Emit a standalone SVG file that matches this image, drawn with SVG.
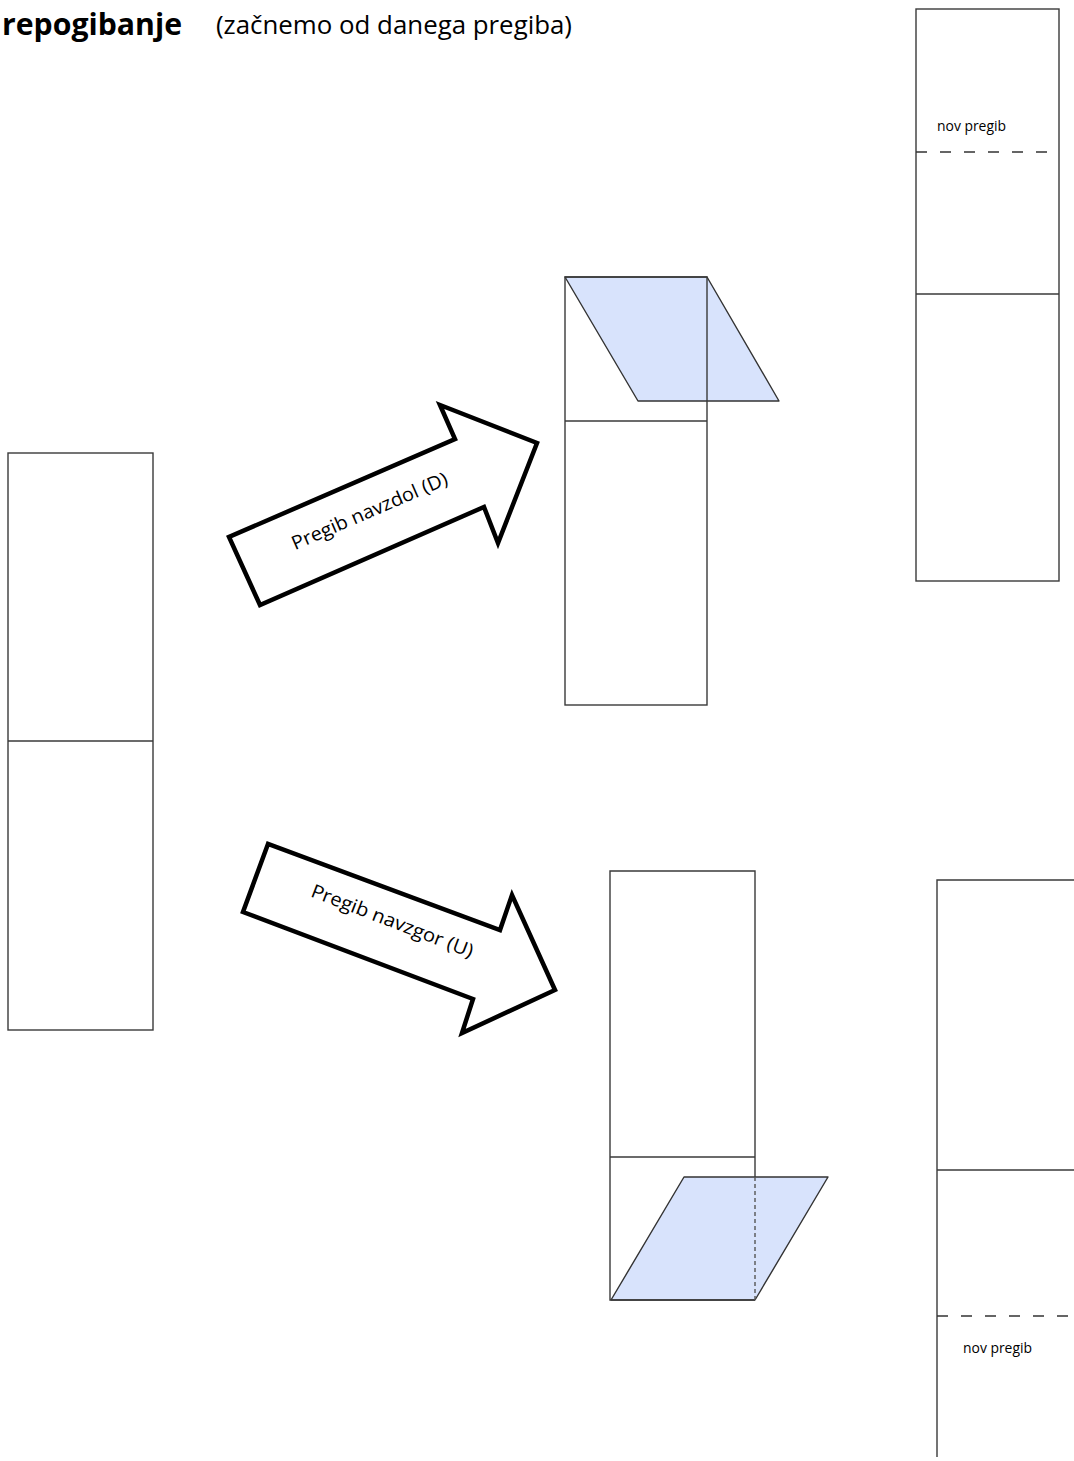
<svg xmlns="http://www.w3.org/2000/svg" width="1074" height="1461" viewBox="0 0 1074 1461">
<style>
.ln{fill:none;stroke:#3a3a3a;stroke-width:1.4}
.dash{fill:none;stroke:#333;stroke-width:1.6;stroke-dasharray:11 13}
.fold{fill:#d8e3fc;stroke:#333;stroke-width:1.4;stroke-linejoin:round}
.dot{fill:none;stroke:#555;stroke-width:1.4;stroke-dasharray:4 3}
.arrow{fill:#fff;stroke:#000;stroke-width:4.5;stroke-linejoin:miter}
.atxt{font-family:"Open Sans","Noto Sans",sans-serif;font-size:19px;fill:#000}
.small{font-family:"Open Sans","Noto Sans",sans-serif;font-size:14px;fill:#000}
</style>
<rect width="1074" height="1461" fill="#fff"/>
<g id="title">
<text x="2" y="35" font-family="'Open Sans','Noto Sans',sans-serif" font-weight="bold" font-size="31" textLength="180" lengthAdjust="spacingAndGlyphs">repogibanje</text>
<text x="216" y="34" font-family="'Open Sans','Noto Sans',sans-serif" font-size="25" textLength="356" lengthAdjust="spacingAndGlyphs">(začnemo od danega pregiba)</text>
</g>
<g id="start-strip">
<rect class="ln" x="8" y="453" width="145" height="577"/>
<line class="ln" x1="8" y1="741" x2="153" y2="741"/>
</g>
<g id="connectors">
<g id="arrow-down">
<polygon class="arrow" points="260,605 229,537 455,439 440,405 537,443 498,543 484,507"/>
<text class="atxt" x="372" y="517" text-anchor="middle" textLength="168" lengthAdjust="spacingAndGlyphs" transform="rotate(-23.4 372 517)">Pregib navzdol (D)</text>
</g>
<g id="arrow-up">
<polygon class="arrow" points="268,844 243,912 473,999 462,1033 555,990 512,895 500,930"/>
<text class="atxt" x="390" y="927" text-anchor="middle" textLength="172" lengthAdjust="spacingAndGlyphs" transform="rotate(21 390 927)">Pregib navzgor (U)</text>
</g>
</g>
<g id="fold-down">
<polygon class="fold" points="565,277 707,277 779,401 638,401"/>
<rect class="ln" x="565" y="277" width="142" height="428"/>
<line class="ln" x1="565" y1="421" x2="707" y2="421"/>
</g>
<g id="fold-up">
<polygon class="fold" points="684,1177 828,1177 755,1300 611,1300"/>
<polyline class="ln" points="755,1177 755,871 610,871 610,1300 755,1300"/>
<line class="ln" x1="610" y1="1157" x2="755" y2="1157"/>
<line class="dot" x1="755" y1="1177" x2="755" y2="1300"/>
</g>
<g id="result-down">
<rect class="ln" x="916" y="9" width="143" height="572"/>
<line class="ln" x1="916" y1="294" x2="1059" y2="294"/>
<line class="dash" x1="916" y1="152" x2="1059" y2="152"/>
<text class="small" x="937" y="131" textLength="69" lengthAdjust="spacingAndGlyphs">nov pregib</text>
</g>
<g id="result-up">
<polyline class="ln" points="1075,880 937,880 937,1457"/>
<line class="ln" x1="937" y1="1170" x2="1075" y2="1170"/>
<line class="dash" x1="937" y1="1316" x2="1075" y2="1316"/>
<text class="small" x="963" y="1353" textLength="69" lengthAdjust="spacingAndGlyphs">nov pregib</text>
</g>
</svg>
